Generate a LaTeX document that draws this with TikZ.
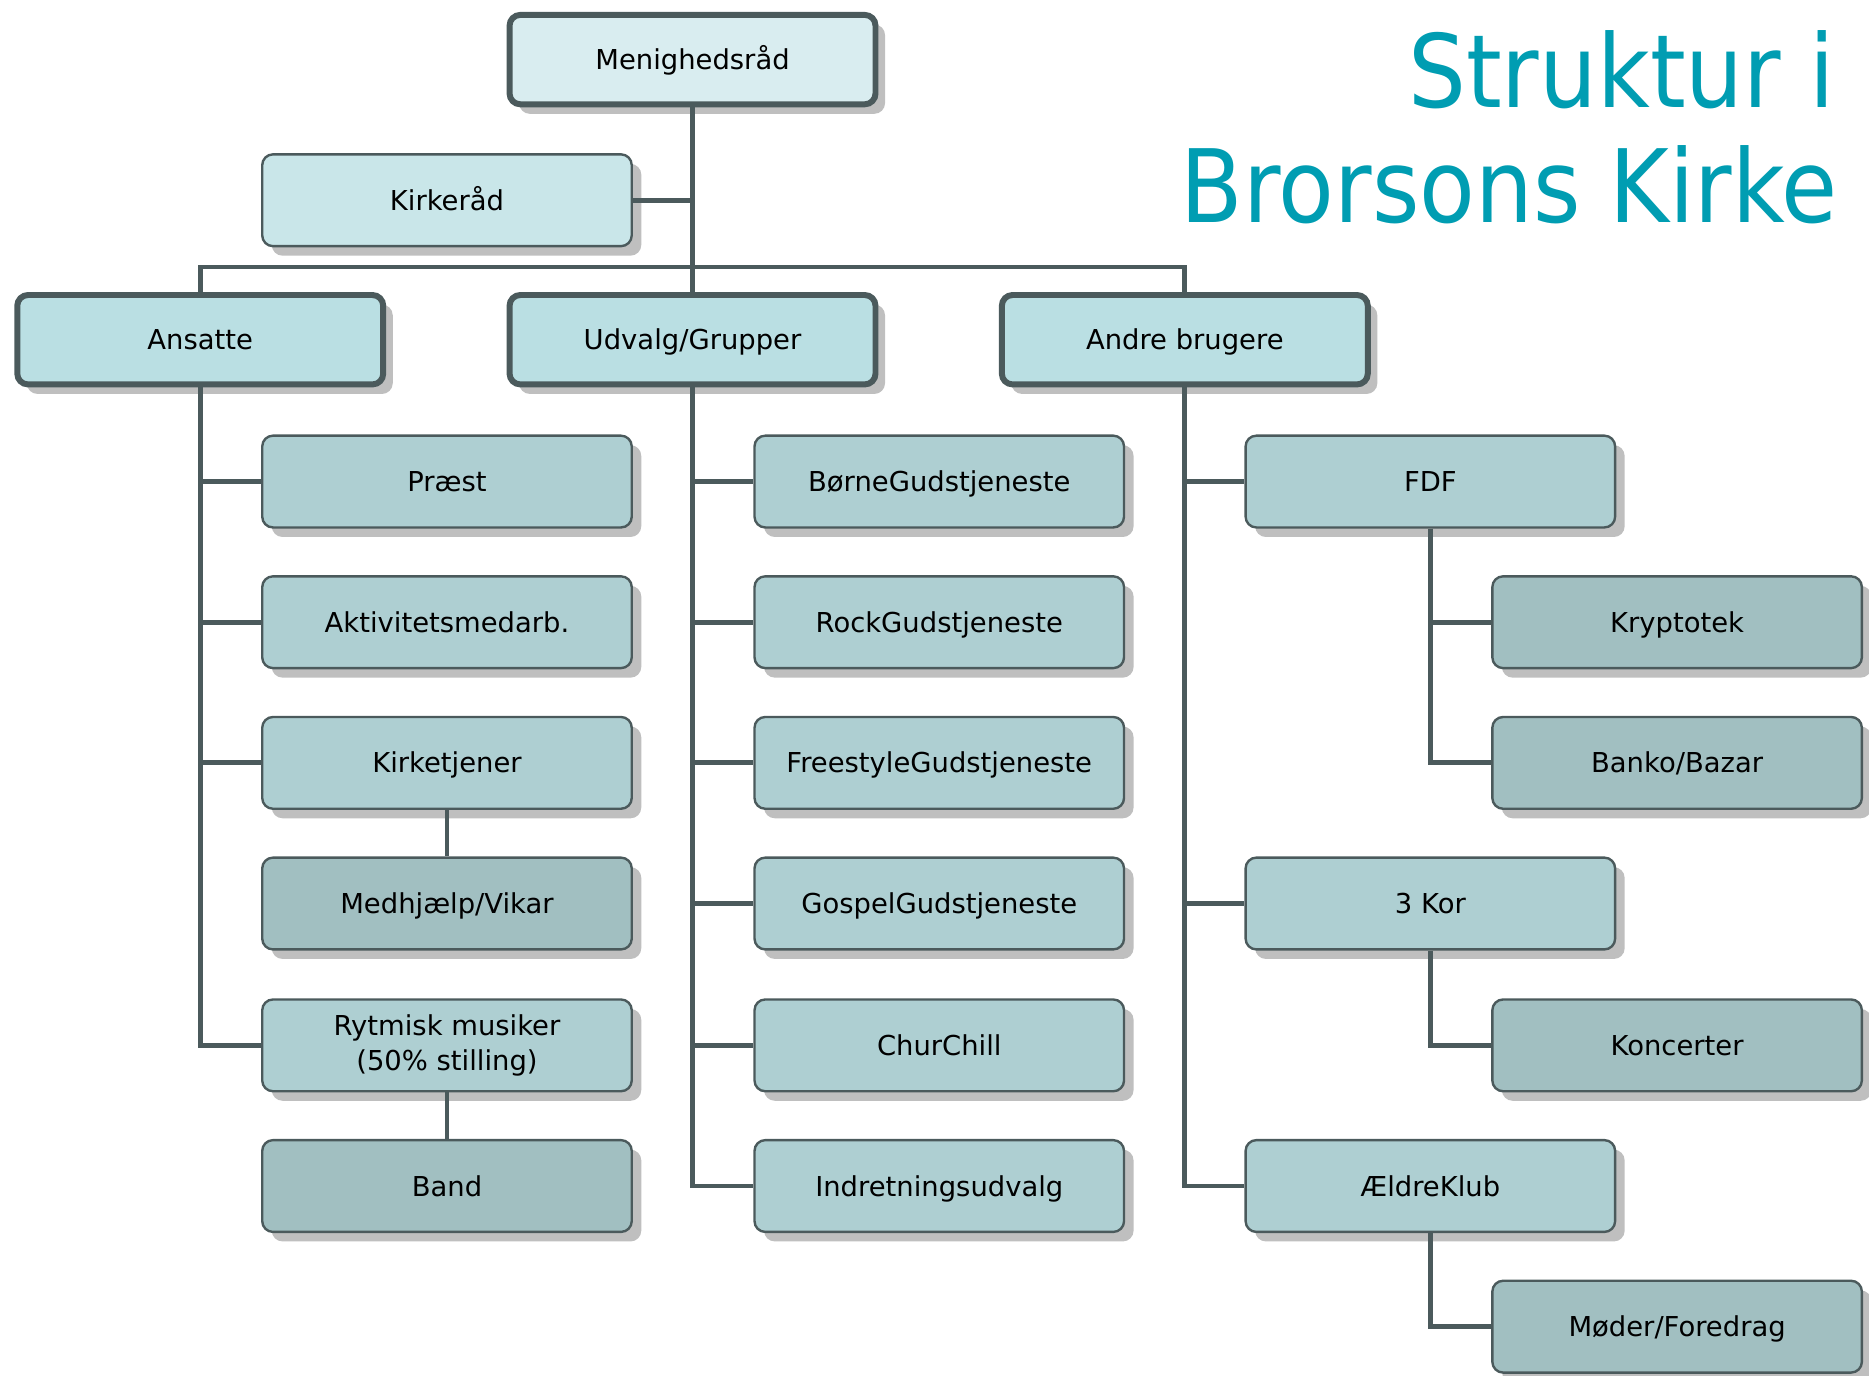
\documentclass[tikz,border=0pt]{standalone}
\usepackage{fontspec}
\setmainfont{DejaVu Sans}
\newfontfamily\titlefont[FakeStretch=0.9]{DejaVu Sans}
\usetikzlibrary{shadows}

\definecolor{linegray}{HTML}{4B5A5C}
\definecolor{shadowgray}{HTML}{BFBFBF}
\definecolor{titleteal}{HTML}{009DB2}
\definecolor{fillA}{HTML}{D9EDF0}
\definecolor{fillB}{HTML}{C9E6E9}
\definecolor{fillC}{HTML}{BADFE3}
\definecolor{fillD}{HTML}{AECFD2}
\definecolor{fillE}{HTML}{A1BFC1}

\tikzset{
  box/.style={draw=linegray, line width=2pt, rounded corners=9pt,
    minimum width=310pt, minimum height=77pt, inner sep=0pt, align=center,
    font=\fontsize{23}{30}\selectfont, text height=16.8pt, text depth=0pt, fill=fillD,
    drop shadow={shadow xshift=8pt, shadow yshift=-8pt, fill=shadowgray, opacity=1}},
  bigbox/.style={box, line width=5pt, minimum width=307pt, minimum height=75pt, fill=fillC},
  subbox/.style={box, fill=fillE},
  link/.style={draw=linegray, line width=4pt},
  sublink/.style={draw=linegray, line width=3pt},
  title/.style={text=titleteal, font=\titlefont\fontsize{85}{96}\selectfont, inner sep=0pt, anchor=base east}
}

\begin{document}
\begin{tikzpicture}[x=1pt, y=-1pt]
  \useasboundingbox (0,0) rectangle (1568,1154);
  % Title
  \node[title] (title1) at (1540,90) {Struktur i};
  \node[title] (title2) at (1542,187) {Brorsons Kirke};
  % Top levels
  \node[bigbox, fill=fillA] (menig) at (581,50) {Menighedsråd};
  \node[box, fill=fillB] (kirkeraad) at (375,168) {Kirkeråd};
  \node[bigbox] (ansatte) at (168,285) {Ansatte};
  \node[bigbox] (udvalg) at (581,285) {Udvalg/Grupper};
  \node[bigbox] (andre) at (994,285) {Andre brugere};
  \coordinate (bar) at (581,224);
  % Ansatte
  \node[box] (praest) at (375,404) {Præst};
  \node[box] (aktiv) at (375,522) {Aktivitetsmedarb.};
  \node[box] (kirketjener) at (375,640) {Kirketjener};
  \node[subbox] (medhjaelp) at (375,758) {Medhjælp/Vikar};
  \node[box, text height=, text depth=] (rytmisk) at (375,877) {Rytmisk musiker\\(50\% stilling)};
  \node[subbox] (band) at (375,995) {Band};
  % Udvalg/Grupper
  \node[box] (boerne) at (788,404) {BørneGudstjeneste};
  \node[box] (rock) at (788,522) {RockGudstjeneste};
  \node[box] (freestyle) at (788,640) {FreestyleGudstjeneste};
  \node[box] (gospel) at (788,758) {GospelGudstjeneste};
  \node[box] (churchill) at (788,877) {ChurChill};
  \node[box] (indretning) at (788,995) {Indretningsudvalg};
  % Andre brugere
  \node[box] (fdf) at (1200,404) {FDF};
  \node[subbox] (krypto) at (1407,522) {Kryptotek};
  \node[subbox] (banko) at (1407,640) {Banko/Bazar};
  \node[box] (kor) at (1200,758) {3 Kor};
  \node[subbox] (koncert) at (1407,877) {Koncerter};
  \node[box] (aeldre) at (1200,995) {ÆldreKlub};
  \node[subbox] (moeder) at (1407,1113) {Møder/Foredrag};
  % Connectors, top
  \draw[link] (menig.south) -- (udvalg.north);
  \draw[link] (kirkeraad.east) -- (kirkeraad.east -| menig.south);
  \draw[link] (ansatte.north) -- (ansatte.north |- bar) -- (andre.north |- bar) -- (andre.north);
  % Connectors, Ansatte
  \draw[link] (ansatte.south) |- (praest.west);
  \draw[link] (ansatte.south) |- (aktiv.west);
  \draw[link] (ansatte.south) |- (kirketjener.west);
  \draw[link] (ansatte.south) |- (rytmisk.west);
  \draw[sublink] (kirketjener.south) -- (medhjaelp.north);
  \draw[sublink] (rytmisk.south) -- (band.north);
  % Connectors, Udvalg/Grupper
  \draw[link] (udvalg.south) |- (boerne.west);
  \draw[link] (udvalg.south) |- (rock.west);
  \draw[link] (udvalg.south) |- (freestyle.west);
  \draw[link] (udvalg.south) |- (gospel.west);
  \draw[link] (udvalg.south) |- (churchill.west);
  \draw[link] (udvalg.south) |- (indretning.west);
  % Connectors, Andre brugere
  \draw[link] (andre.south) |- (fdf.west);
  \draw[link] (andre.south) |- (kor.west);
  \draw[link] (andre.south) |- (aeldre.west);
  \draw[link] (fdf.south) |- (krypto.west);
  \draw[link] (fdf.south) |- (banko.west);
  \draw[link] (kor.south) |- (koncert.west);
  \draw[link] (aeldre.south) |- (moeder.west);
\end{tikzpicture}
\end{document}
